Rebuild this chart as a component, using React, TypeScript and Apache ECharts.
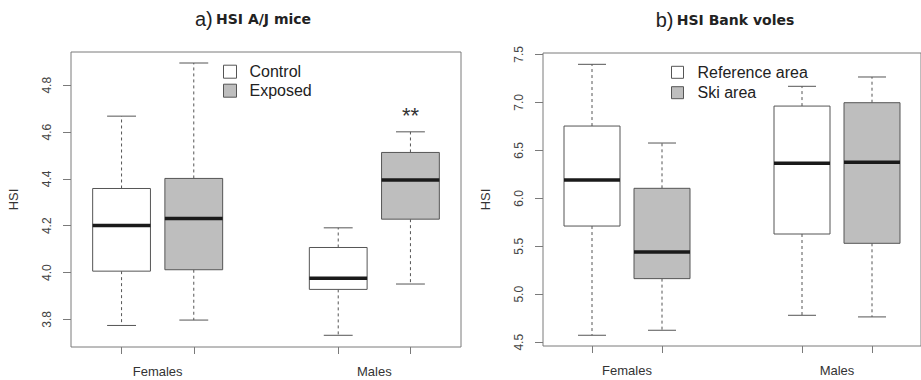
import React, { useEffect, useRef } from "react";
import * as echarts from "echarts";

// ---- Data ----
const categories = ["Females", "Males"];
// [lower whisker, Q1, median, Q3, upper whisker]
const aControl = [
  [3.774, 4.006, 4.201, 4.359, 4.668],
  [3.732, 3.928, 3.976, 4.107, 4.191],
];
const aExposed = [
  [3.797, 4.012, 4.231, 4.402, 4.895],
  [3.951, 4.228, 4.395, 4.513, 4.601],
];
const bReference = [
  [4.573, 5.711, 6.191, 6.753, 7.396],
  [4.781, 5.628, 6.365, 6.961, 7.167],
];
const bSki = [
  [4.625, 5.163, 5.441, 6.104, 6.576],
  [4.764, 5.531, 6.375, 6.996, 7.264],
];
const aTicks = [3.8, 4.0, 4.2, 4.4, 4.6, 4.8];
const bTicks = [4.5, 5.0, 5.5, 6.0, 6.5, 7.0, 7.5];
const aSignificance = [{ category: 1, group: 1, value: 4.672, text: "**" }];

const BORDER = "#555";
const FRAME = "#7a7a7a";
const GRAY = "#bebebe";

const boxPos = (i: number, j: number) => i * 3 + 1 + j;
const catCenter = (i: number) => i * 3 + 1.5;

function renderBox(params: any, api: any) {
  const pos = api.value(0);
  const low = api.value(1);
  const q1 = api.value(2);
  const med = api.value(3);
  const q3 = api.value(4);
  const high = api.value(5);
  const c = (v: number) => api.coord([pos, v]);
  const halfW = api.size([0.8, 0])[0] / 2;
  const x = c(med)[0];
  const yLow = c(low)[1];
  const yQ1 = c(q1)[1];
  const yMed = c(med)[1];
  const yQ3 = c(q3)[1];
  const yHigh = c(high)[1];
  const fill = api.visual("color");
  const dash = { stroke: BORDER, lineWidth: 1, lineDash: [3, 3] };
  const solid = { stroke: BORDER, lineWidth: 1 };
  return {
    type: "group",
    children: [
      { type: "line", shape: { x1: x, y1: yQ3, x2: x, y2: yHigh }, style: dash },
      { type: "line", shape: { x1: x, y1: yQ1, x2: x, y2: yLow }, style: dash },
      { type: "line", shape: { x1: x - halfW / 2, y1: yHigh, x2: x + halfW / 2, y2: yHigh }, style: solid },
      { type: "line", shape: { x1: x - halfW / 2, y1: yLow, x2: x + halfW / 2, y2: yLow }, style: solid },
      {
        type: "rect",
        shape: { x: x - halfW, y: yQ3, width: halfW * 2, height: yQ1 - yQ3 },
        style: { fill, stroke: BORDER, lineWidth: 1 },
      },
      {
        type: "line",
        shape: { x1: x - halfW, y1: yMed, x2: x + halfW, y2: yMed },
        style: { stroke: "#1a1a1a", lineWidth: 3.5 },
      },
    ],
  };
}

function boxSeries(name: string, values: number[][], j: number, gridIdx: number, fill: string) {
  return {
    type: "custom",
    name,
    xAxisIndex: gridIdx,
    yAxisIndex: gridIdx,
    itemStyle: { color: fill, borderColor: BORDER, borderWidth: 1 },
    encode: { x: 0, y: [1, 2, 3, 4, 5] },
    data: values.map((v, i) => [boxPos(i, j), ...v]),
    renderItem: renderBox,
    silent: true,
  };
}

function xAxis(gridIndex: number) {
  return {
    type: "value",
    gridIndex,
    min: 0.3,
    max: 5.7,
    splitLine: { show: false },
    axisLine: { show: false },
    axisTick: {
      show: true,
      length: 7,
      lineStyle: { color: FRAME },
      customValues: categories.flatMap((_, i) => [boxPos(i, 0), boxPos(i, 1)]),
    },
    axisLabel: {
      show: true,
      margin: 18,
      fontSize: 13,
      color: "#333",
      fontFamily: "Liberation Sans, Arial, sans-serif",
      customValues: categories.map((_, i) => catCenter(i)),
      formatter: (v: number) => {
        const idx = categories.findIndex((_, i) => Math.abs(catCenter(i) - v) < 1e-6);
        return idx >= 0 ? categories[idx] : "";
      },
    },
  };
}

function yAxis(gridIndex: number, min: number, max: number, ticks: number[]) {
  return {
    type: "value",
    gridIndex,
    min,
    max,
    name: "HSI",
    nameLocation: "middle",
    nameGap: 51,
    nameRotate: 90,
    nameTextStyle: { fontSize: 13, color: "#333", fontFamily: "Liberation Sans, Arial, sans-serif" },
    splitLine: { show: false },
    axisLine: { show: false },
    axisTick: { show: true, length: 8, lineStyle: { color: FRAME }, customValues: ticks },
    axisLabel: {
      show: true,
      rotate: 90,
      margin: 18,
      fontSize: 12,
      color: "#444",
      fontFamily: "Liberation Sans, Arial, sans-serif",
      customValues: ticks,
      formatter: (v: number) => v.toFixed(1),
    },
  };
}

export default function App() {
  const ref = useRef<HTMLDivElement>(null);
  useEffect(() => {
    document.body.style.margin = "0";
    if (!ref.current) return;
    const chart = echarts.init(ref.current, null, { renderer: "svg" });
    const titleFont = "Liberation Sans, Arial, sans-serif";
    const boldFont = "DejaVu Sans, Verdana, sans-serif";
    chart.setOption({
      animation: false,
      backgroundColor: "#ffffff",
      grid: [
        { left: 71, top: 52, width: 390, height: 295, show: true, borderColor: FRAME, borderWidth: 1, backgroundColor: "transparent" },
        { left: 543, top: 53, width: 387, height: 293, show: true, borderColor: FRAME, borderWidth: 1, backgroundColor: "transparent" },
      ],
      xAxis: [xAxis(0), xAxis(1)],
      yAxis: [yAxis(0, 3.682, 4.942, aTicks), yAxis(1, 4.461, 7.514, bTicks)],
      legend: [
        {
          left: 223,
          top: 63.7,
          padding: 0,
          orient: "vertical",
          itemWidth: 13,
          itemHeight: 13,
          itemGap: 3,
          selectedMode: false,
          textStyle: { fontSize: 16, lineHeight: 16, color: "#222", fontFamily: titleFont, padding: [0, 0, 0, 8] },
          data: [
            { name: "Control", icon: "rect", itemStyle: { color: "#ffffff", borderColor: BORDER, borderWidth: 1 } },
            { name: "Exposed", icon: "rect", itemStyle: { color: GRAY, borderColor: BORDER, borderWidth: 1 } },
          ],
        },
        {
          left: 671,
          top: 64.3,
          padding: 0,
          orient: "vertical",
          itemWidth: 12,
          itemHeight: 12,
          itemGap: 4.4,
          selectedMode: false,
          textStyle: { fontSize: 16, lineHeight: 16, color: "#222", fontFamily: titleFont, padding: [0, 0, 0, 9] },
          data: [
            { name: "Reference area", icon: "rect", itemStyle: { color: "#ffffff", borderColor: BORDER, borderWidth: 1 } },
            { name: "Ski area", icon: "rect", itemStyle: { color: GRAY, borderColor: BORDER, borderWidth: 1 } },
          ],
        },
      ],
      graphic: [
        {
          type: "text",
          x: 253,
          y: 19,
          style: {
            text: "{a|a)} {b|HSI A/J mice}",
            align: "center",
            verticalAlign: "middle",
            textAlign: "center",
            textVerticalAlign: "middle",
            rich: {
              a: { fontSize: 20, fontFamily: titleFont, fill: "#222", color: "#222" },
              b: { fontSize: 14, fontWeight: "bold", fontFamily: boldFont, fill: "#222", color: "#222" },
            },
          },
        },
        {
          type: "text",
          x: 725,
          y: 20,
          style: {
            text: "{a|b)} {b|HSI Bank voles}",
            align: "center",
            verticalAlign: "middle",
            textAlign: "center",
            textVerticalAlign: "middle",
            rich: {
              a: { fontSize: 20, fontFamily: titleFont, fill: "#222", color: "#222" },
              b: { fontSize: 14, fontWeight: "bold", fontFamily: boldFont, fill: "#222", color: "#222" },
            },
          },
        },
      ],
      series: [
        boxSeries("Control", aControl, 0, 0, "#ffffff"),
        boxSeries("Exposed", aExposed, 1, 0, GRAY),
        boxSeries("Reference area", bReference, 0, 1, "#ffffff"),
        boxSeries("Ski area", bSki, 1, 1, GRAY),
        {
          type: "custom",
          name: "significance",
          xAxisIndex: 0,
          yAxisIndex: 0,
          silent: true,
          data: aSignificance.map((s) => [boxPos(s.category, s.group), s.value, s.text]),
          renderItem: (params: any, api: any) => {
            const p = api.coord([api.value(0), api.value(1)]);
            const item = aSignificance[params.dataIndex];
            return {
              type: "text",
              x: p[0],
              y: p[1],
              style: {
                text: item.text,
                fontSize: 22,
                fontFamily: titleFont,
                fill: "#333",
                align: "center",
                verticalAlign: "middle",
              },
            };
          },
        },
      ],
    });
    return () => chart.dispose();
  }, []);
  return (
    <div
      ref={ref}
      style={{ position: "absolute", left: 0, top: 0, width: 921, height: 380 }}
    />
  );
}
